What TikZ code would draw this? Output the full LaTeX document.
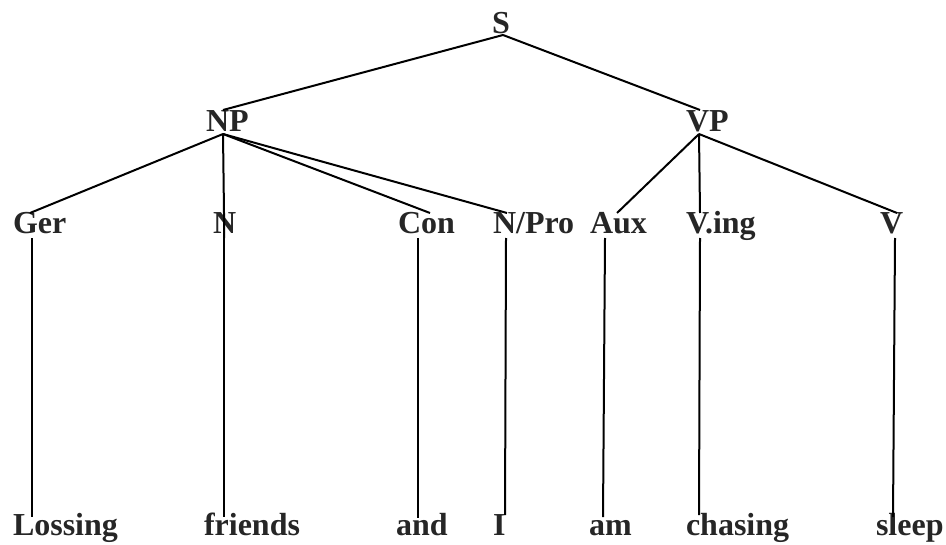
\documentclass[tikz,border=0pt]{standalone}
\usepackage{fontspec}
\setmainfont{Liberation Serif}
\begin{document}
\begin{tikzpicture}[x=0.5pt,y=-0.5pt,line width=1pt,
    lbl/.style={font=\fontsize{16}{19}\selectfont\bfseries,text=black!85,anchor=base west,inner sep=0pt}]
    \useasboundingbox (0,0) rectangle (946,545);

    % phrases
    \node[lbl] (S) at (491,34) {S};
    \node[lbl] (NP) at (205,132) {NP};
    \node[lbl] (VP) at (685,132) {VP};

    % word classes
    \node[lbl] (Ger) at (12,234) {Ger};
    \node[lbl] (N) at (212,234) {N};
    \node[lbl] (Con) at (397,234) {Con};
    \node[lbl] (NPro) at (492,234) {N/Pro};
    \node[lbl] (Aux) at (589,234) {Aux};
    \node[lbl] (Ving) at (685,234) {V.ing};
    \node[lbl] (V) at (879,234) {V};

    % words
    \node[lbl] (Lossing) at (12,535) {Lossing};
    \node[lbl] (friends) at (203,535) {friends};
    \node[lbl] (and) at (395,535) {and};
    \node[lbl] (I) at (492,535) {I};
    \node[lbl] (am) at (588,535) {am};
    \node[lbl] (chasing) at (685,535) {chasing};
    \node[lbl] (sleep) at (875,535) {sleep};

    % line ends
    \coordinate (sB) at (503,35);
    \coordinate (npT) at (223,110);
    \coordinate (npB) at (223,134);
    \coordinate (vpT) at (700,110);
    \coordinate (vpB) at (699,134);
    \coordinate (gerT) at (30,213);
    \coordinate (gerB) at (32,238);
    \coordinate (nT) at (224,213);
    \coordinate (nB) at (224,238);
    \coordinate (conT) at (430,213);
    \coordinate (conB) at (418,238);
    \coordinate (nproT) at (507,213);
    \coordinate (nproB) at (506,238);
    \coordinate (auxT) at (617,213);
    \coordinate (auxB) at (605,238);
    \coordinate (vingT) at (700,213);
    \coordinate (vingB) at (700,238);
    \coordinate (vT) at (897,213);
    \coordinate (vB) at (895,238);
    \coordinate (lossingT) at (32,517);
    \coordinate (friendsT) at (224,517);
    \coordinate (andT) at (418,518);
    \coordinate (iT) at (505,515);
    \coordinate (amT) at (603,517);
    \coordinate (chasingT) at (699,515);
    \coordinate (sleepT) at (893,517);

    \draw (sB) -- (npT);
    \draw (sB) -- (vpT);

    \draw (npB) -- (gerT);
    \draw (npB) -- (nT) -- (nB);
    \draw (npB) -- (conT);
    \draw (npB) -- (nproT);
    \draw (vpB) -- (auxT);
    \draw (vpB) -- (vingT);
    \draw (vpB) -- (vT);

    \draw (gerB) -- (lossingT);
    \draw (nB) -- (friendsT);
    \draw (conB) -- (andT);
    \draw (nproB) -- (iT);
    \draw (auxB) -- (amT);
    \draw (vingB) -- (chasingT);
    \draw (vB) -- (sleepT);
\end{tikzpicture}
\end{document}
